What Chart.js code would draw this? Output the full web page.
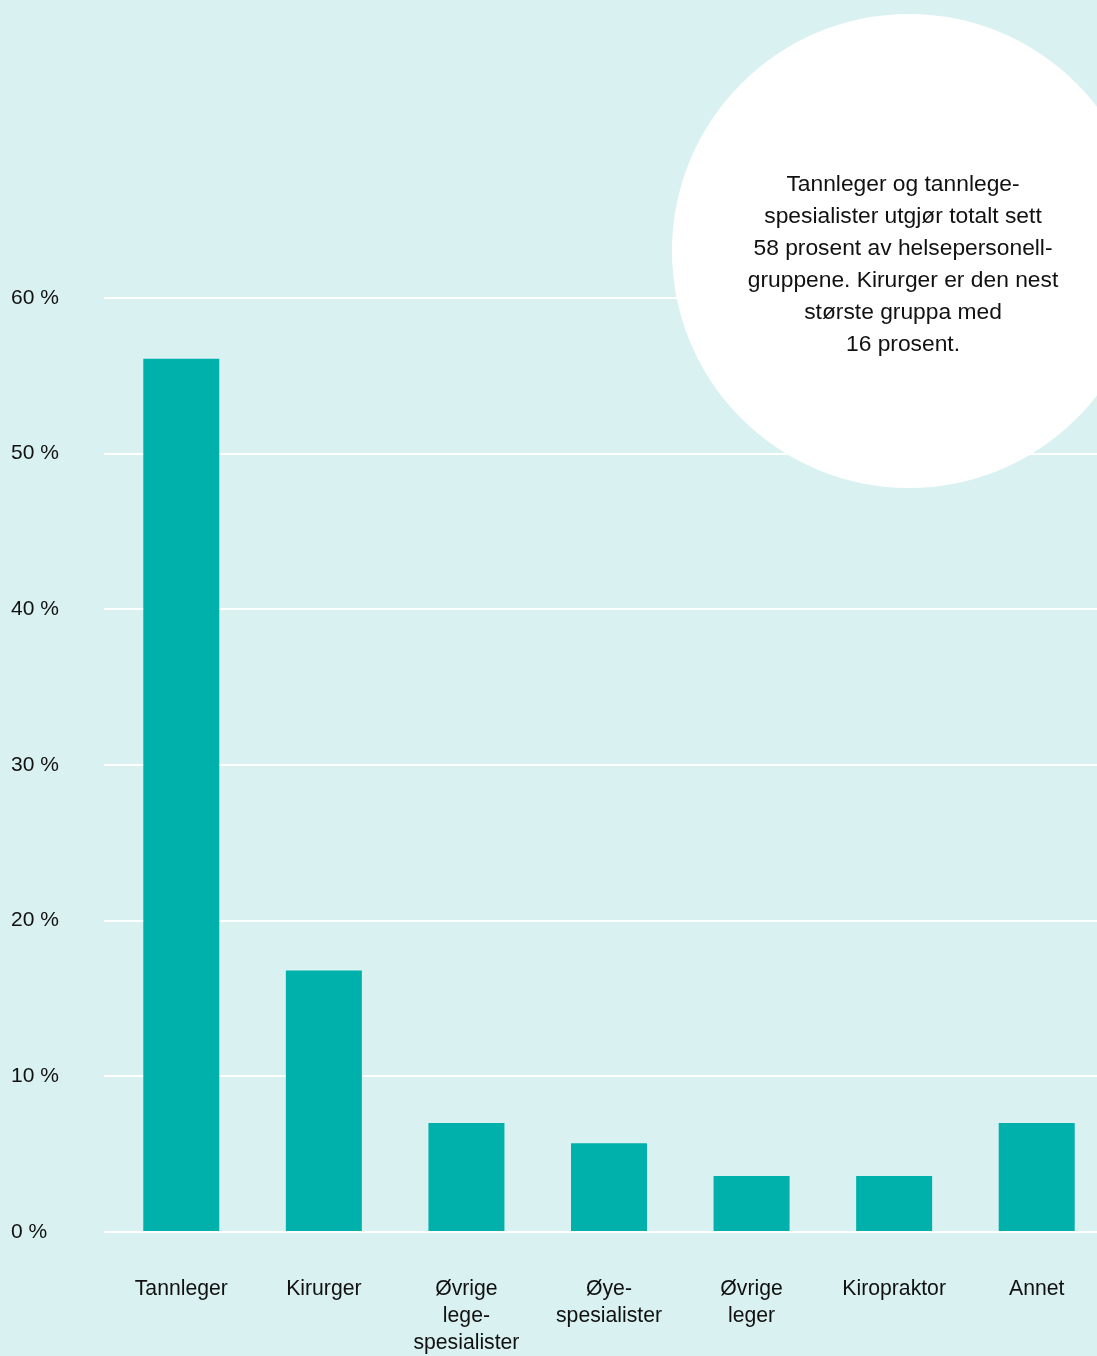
<!DOCTYPE html>
<html lang="no">
<head>
<meta charset="utf-8">
<title>Helsepersonellgrupper</title>
<script src="https://cdn.jsdelivr.net/npm/chart.js@4/dist/chart.umd.min.js"></script>
<style>
    html, body {
        margin: 0;
        padding: 0;
        width: 1097px;
        height: 1356px;
        overflow: hidden;
        background: #d9f2f1;
        font-family: "Liberation Sans", Arial, sans-serif;
    }
    #wrap {
        position: absolute;
        left: 0;
        top: 0;
        width: 1108px;
        height: 1356px;
    }
    #bubble {
        position: absolute;
        left: 672px;
        top: 14px;
        width: 474px;
        height: 474px;
        border-radius: 50%;
        background: #ffffff;
    }
    #bubbleText {
        position: absolute;
        left: 703px;
        top: 167px;
        width: 400px;
        text-align: center;
        font-size: 22.8px;
        line-height: 32px;
        color: #111111;
    }
</style>
</head>
<body>
<div id="wrap"><canvas id="myChart" width="1108" height="1356"></canvas></div>
<div id="bubble"></div>
<div id="bubbleText">
    Tannleger og tannlege-<br>
    spesialister utgjør totalt sett<br>
    58 prosent av helsepersonell-<br>
    gruppene. Kirurger er den nest<br>
    største gruppa med<br>
    16 prosent.
</div>
<script>
// === データ ===
const categories = [
    'Tannleger',
    'Kirurger',
    ['Øvrige', 'lege-', 'spesialister'],
    ['Øye-', 'spesialister'],
    ['Øvrige', 'leger'],
    'Kiropraktor',
    'Annet'
];
const shares = [56.1, 16.8, 7.0, 5.7, 3.6, 3.6, 7.0]; // prosent
const yTicks = [0, 10, 20, 30, 40, 50, 60];

const BAR_COLOR = '#00b0aa';
const TEXT_COLOR = '#111111';
const FONT_FAMILY = '"Liberation Sans", Arial, sans-serif';

const ctx = document.getElementById('myChart').getContext('2d');
new Chart(ctx, {
    type: 'bar',
    data: {
        labels: categories,
        datasets: [{
            data: shares,
            backgroundColor: BAR_COLOR,
            borderWidth: 0,
            categoryPercentage: 1,
            barPercentage: 0.533
        }]
    },
    options: {
        responsive: false,
        animation: false,
        layout: {
            padding: { left: 11, right: 0, top: 298, bottom: 0 }
        },
        plugins: {
            legend: { display: false },
            tooltip: { enabled: false }
        },
        scales: {
            x: {
                afterFit: (scale) => { scale.height = 124; }, // 0 % linje ved y=1232
                grid: { display: false },
                border: { display: false },
                ticks: {
                    color: TEXT_COLOR,
                    font: { family: FONT_FAMILY, size: 21.2, lineHeight: 1.29 },
                    padding: 35,
                    maxRotation: 0,
                    autoSkip: false
                }
            },
            y: {
                min: yTicks[0],
                max: yTicks[yTicks.length - 1],
                afterFit: (scale) => { scale.width = 99; },
                afterBuildTicks: (scale) => {
                    scale.ticks = yTicks.map(v => ({ value: v }));
                },
                grid: {
                    color: '#ffffff',
                    lineWidth: 2,
                    drawTicks: true,
                    tickLength: 6
                },
                border: { display: false },
                ticks: {
                    color: TEXT_COLOR,
                    crossAlign: 'far',
                    font: { family: FONT_FAMILY, size: 21 },
                    callback: (v) => v + ' %'
                }
            }
        }
    }
});
</script>
</body>
</html>
